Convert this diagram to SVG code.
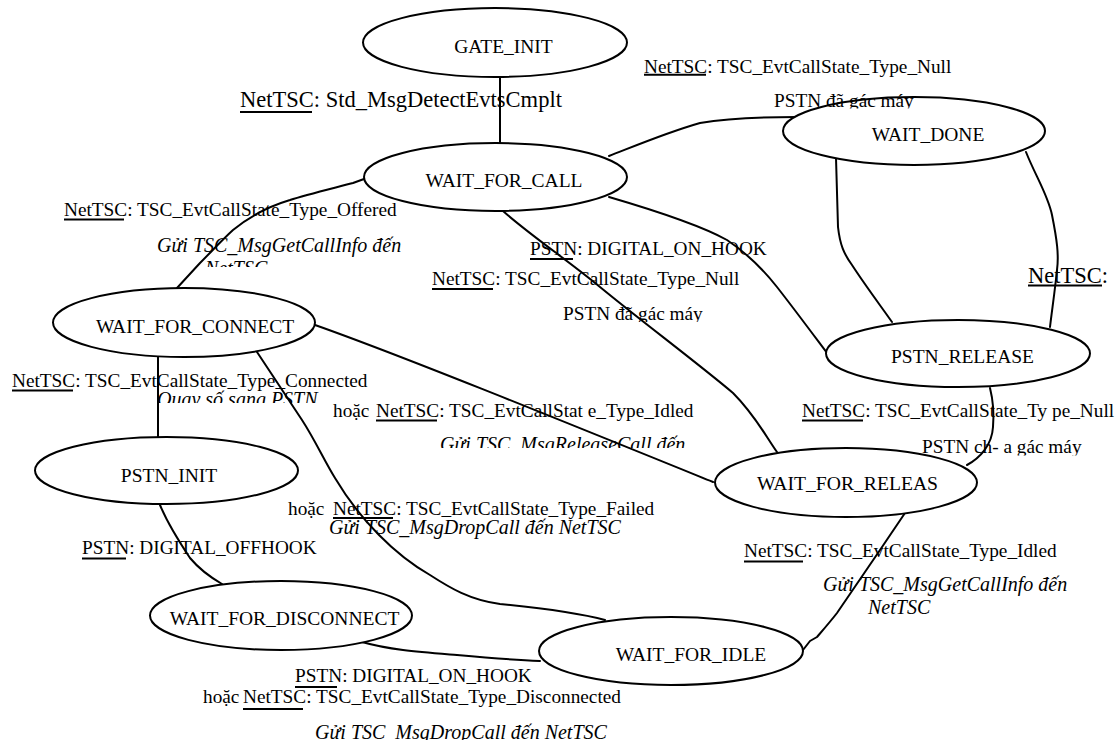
<svg xmlns="http://www.w3.org/2000/svg" width="1120" height="741" viewBox="0 0 1120 741">
  <style>
    .st { fill: #fff; stroke: #000; stroke-width: 2; }
    .nl { font-family: "Liberation Serif", "Times New Roman", serif; font-size: 19.5px; fill: #000; text-anchor: middle; }
    .lb { font-family: "Liberation Serif", "Times New Roman", serif; font-size: 19.3px; fill: #000; }
    .big { font-size: 22.5px; }
    .it { font-style: italic; font-size: 20px; }
    .ul { stroke: #000; stroke-width: 2; }
    #connectors path { fill: none; stroke: #000; stroke-width: 2; stroke-linejoin: round; stroke-linecap: round; }
  </style>
  <defs>
    <!-- text boxes that cut their last line short -->
    <clipPath id="clip-done-note" clipPathUnits="userSpaceOnUse"><rect x="700" y="80" width="300" height="28.5"/></clipPath>
    <clipPath id="clip-offered-note" clipPathUnits="userSpaceOnUse"><rect x="100" y="225" width="330" height="42"/></clipPath>
    <clipPath id="clip-null-note" clipPathUnits="userSpaceOnUse"><rect x="500" y="295" width="260" height="27"/></clipPath>
    <clipPath id="clip-dial-note" clipPathUnits="userSpaceOnUse"><rect x="100" y="380" width="260" height="23"/></clipPath>
    <clipPath id="clip-release-note" clipPathUnits="userSpaceOnUse"><rect x="420" y="425" width="300" height="23"/></clipPath>
    <clipPath id="clip-hook-note" clipPathUnits="userSpaceOnUse"><rect x="900" y="430" width="220" height="25.5"/></clipPath>
    <clipPath id="clip-drop-note" clipPathUnits="userSpaceOnUse"><rect x="280" y="715" width="360" height="25"/></clipPath>
  </defs>

  <!-- transitions -->
  <g id="connectors">
    <path id="gate-to-call" d="M500,77 L500,143"/>
    <path id="call-to-done" d="M609,156 C630,148 665,133 700,123 C730,118 760,117 797,117"/>
    <path id="call-to-connect" d="M364,179 L353,183 C330,189 305,195 290,200 C270,206 250,216 233,230 C222,240 213,250 200,263 L177,288"/>
    <path id="call-to-pstn-release" d="M609,197 C650,209 700,225 727,240 C745,252 762,268 777,287 C795,310 812,333 827,353"/>
    <path id="call-to-releas" d="M503,211 C530,235 570,262 600,287 C640,320 700,365 733,393 C755,415 765,435 777,452"/>
    <path id="done-to-pstn-release-a" d="M836,158 L838,227 C840,245 844,254 852,265 C865,285 880,305 892,322"/>
    <path id="done-to-pstn-release-b" d="M1026,152 C1035,175 1048,195 1052,215 C1057,240 1059,255 1057,270 C1055,290 1052,310 1050,327"/>
    <path id="pstn-release-to-releas" d="M990,388 C993,400 994,415 993,427 C992,445 980,458 967,465"/>
    <path id="connect-to-init" d="M158,357 L158,437"/>
    <path id="connect-to-releas" d="M315,325 C400,355 560,420 713,482"/>
    <path id="connect-to-idle" d="M257,352 L302,420 C315,440 325,462 335,478 C360,520 395,555 430,575 C450,588 470,600 500,604 C540,608 575,612 605,620"/>
    <path id="init-to-disconnect" d="M160,505 C167,522 178,540 190,558 C200,570 210,577 222,584"/>
    <path id="disconnect-to-idle" d="M362,642 C390,650 420,652 457,655 C490,658 515,660 540,661"/>
    <path id="releas-to-idle" d="M905,513 L880,550 L837,613 C830,622 823,630 817,637 L810,641 L803,650"/>
  </g>

  <!-- states -->
  <g id="node-gate-init">
    <ellipse class="st" cx="495" cy="42.5" rx="132" ry="34.5"/>
    <text class="nl" x="503.5" y="53">GATE_INIT</text>
  </g>
  <g id="node-wait-for-call">
    <ellipse class="st" cx="495.5" cy="177" rx="131.5" ry="34"/>
    <text class="nl" x="504" y="187">WAIT_FOR_CALL</text>
  </g>
  <g id="node-wait-done">
    <ellipse class="st" cx="914" cy="131" rx="131" ry="34"/>
    <text class="nl" x="928" y="141">WAIT_DONE</text>
  </g>
  <g id="node-wait-for-connect">
    <ellipse class="st" cx="184" cy="322.5" rx="131" ry="34.5"/>
    <text class="nl" x="195" y="333">WAIT_FOR_CONNECT</text>
  </g>
  <g id="node-pstn-release">
    <ellipse class="st" cx="958" cy="353.5" rx="132" ry="33.5"/>
    <text class="nl" x="962.5" y="363">PSTN_RELEASE</text>
  </g>
  <g id="node-pstn-init">
    <ellipse class="st" cx="166.5" cy="470.5" rx="131.5" ry="33.5"/>
    <text class="nl" x="169" y="482">PSTN_INIT</text>
  </g>
  <g id="node-wait-for-releas">
    <ellipse class="st" cx="846" cy="482.5" rx="131" ry="34.5"/>
    <text class="nl" x="847.5" y="490" textLength="181" lengthAdjust="spacingAndGlyphs">WAIT_FOR_RELEAS</text>
  </g>
  <g id="node-wait-for-disconnect">
    <ellipse class="st" cx="281" cy="615.5" rx="131" ry="34.5"/>
    <text class="nl" x="284.5" y="625">WAIT_FOR_DISCONNECT</text>
  </g>
  <g id="node-wait-for-idle">
    <ellipse class="st" cx="671" cy="651" rx="132" ry="34"/>
    <text class="nl" x="691" y="661">WAIT_FOR_IDLE</text>
  </g>

  <!-- event / action labels -->
  <g id="labels">
    <text class="lb big" x="240" y="107">NetTSC: Std_MsgDetectEvtsCmplt</text>
    <line class="ul" x1="240" y1="112" x2="312" y2="112"/>

    <text class="lb" x="644" y="72.5">NetTSC: TSC_EvtCallState_Type_Null</text>
    <line class="ul" x1="644" y1="74.8" x2="706" y2="74.8"/>
    <text class="lb" x="774" y="106.5" clip-path="url(#clip-done-note)">PSTN đã gác máy</text>

    <text class="lb" x="64" y="216">NetTSC: TSC_EvtCallState_Type_Offered</text>
    <line class="ul" x1="64" y1="219.5" x2="124" y2="219.5"/>
    <g clip-path="url(#clip-offered-note)">
      <text class="lb it" x="157" y="252">Gửi TSC_MsgGetCallInfo đến</text>
      <text class="lb it" x="205" y="275">NetTSC</text>
    </g>

    <text class="lb" x="530" y="255">PSTN: DIGITAL_ON_HOOK</text>
    <line class="ul" x1="530" y1="259" x2="573" y2="259"/>
    <text class="lb" x="432" y="285">NetTSC: TSC_EvtCallState_Type_Null</text>
    <line class="ul" x1="432" y1="289" x2="493" y2="289"/>
    <text class="lb" x="563" y="320" clip-path="url(#clip-null-note)">PSTN đã gác máy</text>

    <text class="lb big" x="1028" y="282.7">NetTSC:</text>
    <line class="ul" x1="1028" y1="285.5" x2="1102" y2="285.5"/>

    <text class="lb" x="12" y="387">NetTSC: TSC_EvtCallState_Type_Connected</text>
    <line class="ul" x1="12" y1="390.5" x2="73" y2="390.5"/>
    <text class="lb it" x="157" y="405.5" clip-path="url(#clip-dial-note)">Quay số sang PSTN</text>

    <text class="lb" x="333" y="417">hoặc</text>
    <text class="lb" x="376" y="417">NetTSC: TSC_EvtCallStat e_Type_Idled</text>
    <line class="ul" x1="376" y1="420.5" x2="437" y2="420.5"/>
    <text class="lb it" x="440" y="451" clip-path="url(#clip-release-note)">Gửi TSC_MsgReleaseCall đến</text>

    <text class="lb" x="802" y="417">NetTSC: TSC_EvtCallState_Ty pe_Null</text>
    <line class="ul" x1="802" y1="420.5" x2="863" y2="420.5"/>
    <text class="lb" x="922" y="453.3" clip-path="url(#clip-hook-note)">PSTN ch- a gác máy</text>

    <text class="lb" x="288" y="514.5">hoặc</text>
    <text class="lb" x="333" y="514.5">NetTSC: TSC_EvtCallState_Type_Failed</text>
    <line class="ul" x1="333" y1="518" x2="393" y2="518"/>
    <text class="lb it" x="329" y="534">Gửi TSC_MsgDropCall đến NetTSC</text>

    <text class="lb" x="82" y="554">PSTN: DIGITAL_OFFHOOK</text>
    <line class="ul" x1="82" y1="558.5" x2="126" y2="558.5"/>

    <text class="lb" x="744" y="557">NetTSC: TSC_EvtCallState_Type_Idled</text>
    <line class="ul" x1="744" y1="561.5" x2="803" y2="561.5"/>
    <text class="lb it" x="823" y="590.5">Gửi TSC_MsgGetCallInfo đến</text>
    <text class="lb it" x="868" y="614">NetTSC</text>

    <text class="lb" x="295" y="682">PSTN: DIGITAL_ON_HOOK</text>
    <line class="ul" x1="295" y1="687" x2="337" y2="687"/>
    <text class="lb" x="203" y="703">hoặc</text>
    <text class="lb" x="243" y="703">NetTSC: TSC_EvtCallState_Type_Disconnected</text>
    <line class="ul" x1="243" y1="709" x2="303" y2="709"/>
    <text class="lb it" x="315" y="738.5" clip-path="url(#clip-drop-note)">Gửi TSC_MsgDropCall đến NetTSC</text>
  </g>
</svg>
